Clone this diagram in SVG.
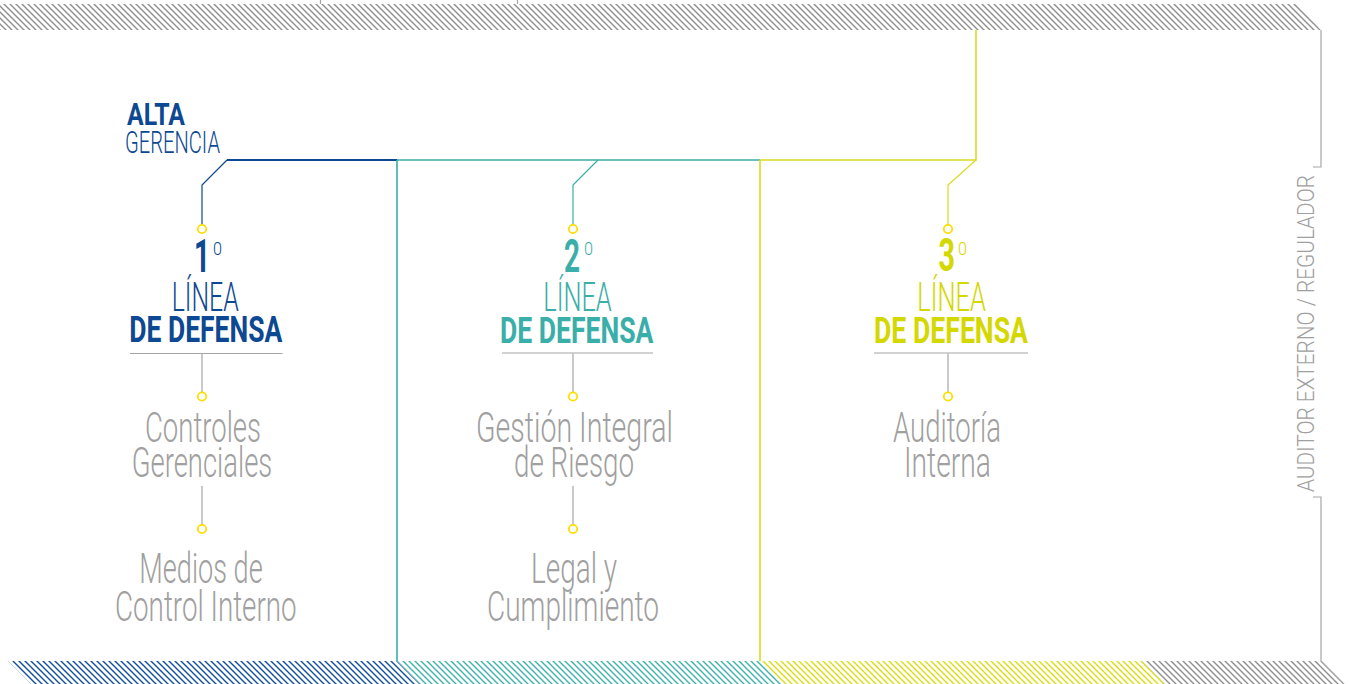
<svg xmlns="http://www.w3.org/2000/svg" width="1349" height="684" viewBox="0 0 1349 684">
<defs>
<pattern id="hg" patternUnits="userSpaceOnUse" width="6" height="6"><path d="M-1,-1 L7,7 M-1,5 L1,7 M5,-1 L7,1" stroke="#8f8f8f" stroke-width="1.4"/></pattern>
<pattern id="hb" patternUnits="userSpaceOnUse" width="6" height="6"><path d="M-1,-1 L7,7 M-1,5 L1,7 M5,-1 L7,1" stroke="#124f9c" stroke-width="1.4"/></pattern>
<pattern id="ht" patternUnits="userSpaceOnUse" width="6" height="6"><path d="M-1,-1 L7,7 M-1,5 L1,7 M5,-1 L7,1" stroke="#3fb3ae" stroke-width="1.4"/></pattern>
<pattern id="hy" patternUnits="userSpaceOnUse" width="6" height="6"><path d="M-1,-1 L7,7 M-1,5 L1,7 M5,-1 L7,1" stroke="#dcdc14" stroke-width="1.4"/></pattern>
<style>
text{font-family:Roboto,"Liberation Sans",sans-serif}
.b{font-weight:700}
.l{font-weight:300}
.blue{fill:#0d4892}
.teal{fill:#3aaea9}
.yel{fill:#d4d700}
.grey{fill:#a0a0a0}
.dot{fill:#fff;stroke:#ffde00;stroke-width:1.8}
.g{stroke:#a6a6a6;stroke-width:1.2;fill:none}
</style>
</defs>
<g id="bands">
<polygon points="0,4 1297,4 1321,30 0,30" fill="url(#hg)"/>
<polygon points="8,661 397,661 420,684 31,684" fill="url(#hb)"/>
<polygon points="397,661 760,661 783,684 420,684" fill="url(#ht)"/>
<polygon points="760,661 1142,661 1165,684 783,684" fill="url(#hy)"/>
<polygon points="1142,661 1321,661 1344,684 1165,684" fill="url(#hg)"/>
<path d="M320.5,0 V4 M517.5,0 V4" class="g"/>
</g>
<g id="connectors">
<path d="M227,160 H397" stroke="#0d4892" stroke-width="1.8" fill="none"/>
<path d="M227,160 L202,185 V224.5" stroke="#0d4892" stroke-width="1.2" fill="none"/>
<path d="M397,160 H760 M397,160 V661" stroke="#3aaea9" stroke-width="1.6" fill="none"/>
<path d="M598,160 L573,185 V224.5" stroke="#3aaea9" stroke-width="1.2" fill="none"/>
<path d="M760,160 H976 V30 M760,160 V661" stroke="#d9dc1e" stroke-width="1.6" fill="none"/>
<path d="M976,160 L948,185 V224.5" stroke="#d9dc1e" stroke-width="1.2" fill="none"/>
<path d="M1321,30 V167 H1313 M1313,497 H1321 V661 L1344,684" class="g"/>
<path d="M202,353.5 V392 M202,486 V524.5 M573,353.5 V392 M573,486 V524.5 M948,353.5 V392" class="g"/>
</g>
<g id="alta">
<text class="b blue" x="127" y="124.5" font-size="31" textLength="58" lengthAdjust="spacingAndGlyphs">ALTA</text>
<text class="l blue" x="125" y="153" font-size="31" textLength="95" lengthAdjust="spacingAndGlyphs">GERENCIA</text>
</g>
<g id="linea1">
<circle class="dot" cx="202" cy="229" r="4.2"/>
<text class="blue" x="194" y="271.5"><tspan class="b" font-size="46" textLength="16" lengthAdjust="spacingAndGlyphs">1</tspan><tspan class="l" font-size="18" x="213" y="255" textLength="9" lengthAdjust="spacingAndGlyphs">0</tspan></text>
<text class="l blue" x="171.7" y="311" font-size="41" textLength="67" lengthAdjust="spacingAndGlyphs">LÍNEA</text>
<text class="b blue" x="129.3" y="342.3" font-size="36" textLength="153" lengthAdjust="spacingAndGlyphs">DE DEFENSA</text>
<path d="M130,353.5 H282.5" class="g"/>
</g>
<g id="controles-gerenciales">
<circle class="dot" cx="202" cy="396.5" r="4.2"/>
<text class="l grey" x="145" y="441.7" font-size="42" textLength="116" lengthAdjust="spacingAndGlyphs">Controles</text>
<text class="l grey" x="131.7" y="476.7" font-size="42" textLength="140.6" lengthAdjust="spacingAndGlyphs">Gerenciales</text>
</g>
<g id="medios-control">
<circle class="dot" cx="202" cy="529" r="4.2"/>
<text class="l grey" x="139.3" y="583.3" font-size="42" textLength="123.4" lengthAdjust="spacingAndGlyphs">Medios de</text>
<text class="l grey" x="115" y="620.7" font-size="42" textLength="181.7" lengthAdjust="spacingAndGlyphs">Control Interno</text>
</g>
<g id="linea2">
<circle class="dot" cx="573" cy="229" r="4.2"/>
<text class="teal" x="564" y="271.7"><tspan class="b" font-size="46" textLength="16" lengthAdjust="spacingAndGlyphs">2</tspan><tspan class="l" font-size="18" x="584" y="255" textLength="9" lengthAdjust="spacingAndGlyphs">0</tspan></text>
<text class="l teal" x="543.3" y="311" font-size="41" textLength="68.4" lengthAdjust="spacingAndGlyphs">LÍNEA</text>
<text class="b teal" x="500" y="342.5" font-size="36" textLength="153.3" lengthAdjust="spacingAndGlyphs">DE DEFENSA</text>
<path d="M502,353 H653" class="g"/>
</g>
<g id="gestion-riesgo">
<circle class="dot" cx="573" cy="396.5" r="4.2"/>
<text class="l grey" x="476" y="441.7" font-size="42" textLength="197" lengthAdjust="spacingAndGlyphs">Gestión Integral</text>
<text class="l grey" x="514" y="476.7" font-size="42" textLength="120" lengthAdjust="spacingAndGlyphs">de Riesgo</text>
</g>
<g id="legal-cumplimiento">
<circle class="dot" cx="573" cy="529" r="4.2"/>
<text class="l grey" x="531" y="583.3" font-size="42" textLength="86" lengthAdjust="spacingAndGlyphs">Legal y</text>
<text class="l grey" x="487" y="620.7" font-size="42" textLength="172" lengthAdjust="spacingAndGlyphs">Cumplimiento</text>
</g>
<g id="linea3">
<circle class="dot" cx="948" cy="229" r="4.2"/>
<text class="yel" x="938.5" y="271"><tspan class="b" font-size="46" textLength="16.5" lengthAdjust="spacingAndGlyphs">3</tspan><tspan class="l" font-size="18" x="958" y="255" textLength="9" lengthAdjust="spacingAndGlyphs">0</tspan></text>
<text class="l yel" x="917.3" y="311" font-size="41" textLength="68.7" lengthAdjust="spacingAndGlyphs">LÍNEA</text>
<text class="b yel" x="874" y="342.5" font-size="36" textLength="154" lengthAdjust="spacingAndGlyphs">DE DEFENSA</text>
<path d="M874,353 H1028" class="g"/>
</g>
<g id="auditoria-interna">
<circle class="dot" cx="948" cy="396.5" r="4.2"/>
<text class="l grey" x="893" y="441.7" font-size="42" textLength="108" lengthAdjust="spacingAndGlyphs">Auditoría</text>
<text class="l grey" x="904" y="476.7" font-size="42" textLength="87" lengthAdjust="spacingAndGlyphs">Interna</text>
</g>
<g id="auditor-externo">
<text class="l grey" transform="translate(1314,492) rotate(-90)" x="0" y="0" font-size="23" textLength="317" lengthAdjust="spacingAndGlyphs">AUDITOR EXTERNO / REGULADOR</text>
</g>
</svg>
